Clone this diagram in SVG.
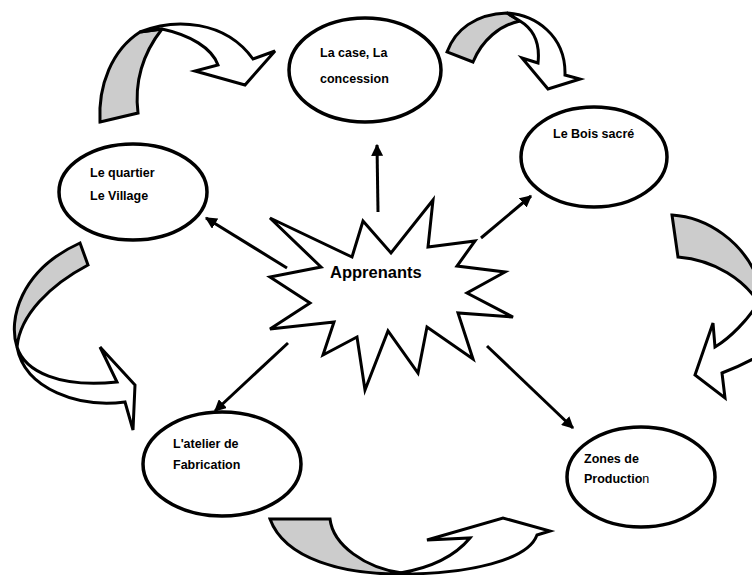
<svg xmlns="http://www.w3.org/2000/svg" width="752" height="575" viewBox="0 0 752 575">
<style>
.ell{fill:#fff;stroke:#000;stroke-width:3.5}
.lbl{font-family:"Liberation Sans",Arial,sans-serif;font-weight:bold;font-size:12.5px;fill:#000}
.gray{fill:#cccccc;stroke:#000;stroke-width:3;stroke-linejoin:miter}
.white{fill:#fff;stroke:#000;stroke-width:3;stroke-linejoin:miter}
.conn{stroke:#000;stroke-width:3;fill:none}
</style>
<defs>
<marker id="ah" viewBox="0 0 10 10" refX="9" refY="5" markerWidth="4" markerHeight="4" orient="auto" markerUnits="strokeWidth">
<path d="M0,0 L10,5 L0,10 Z" fill="#000"/>
</marker>
</defs>
<rect width="752" height="575" fill="#fff"/>

<g id="curved-arrows">
<g id="arrow-top-left">
<path class="gray" d="M100,122 L138,113 C134,80 144,52 162,29 L140,32 C112,50 98,85 100,122 Z"/>
<path class="white" d="M140,32 C175,18 225,20 253,59 L275,51 L245,85 L195,71 L218,65 C212,48 190,35 162,29 Z"/>
</g>
<g id="arrow-top-right">
<path class="gray" d="M447,52 C455,30 475,14 507,13 L520,21 C500,25 482,40 473,62 Z"/>
<path class="white" d="M507,13 C535,15 566,35 565,75 L580,79 L548,89 L522,58 L538,63 C540,45 535,30 520,21 Z"/>
</g>
<g id="arrow-right">
<path class="gray" d="M672,215 C705,217 745,240 760,285 L760,305 C745,280 715,260 678,257 Z"/>
<path class="white" d="M760,300 C748,320 730,338 715,347 L713,323 L695,375 L725,398 L722,373 C735,368 748,362 760,355 Z"/>
</g>
<g id="arrow-left">
<path class="gray" d="M80,243 L88,265 C50,285 20,315 17,347 C8,320 20,270 80,243 Z"/>
<path class="white" d="M17,347 C25,372 60,388 117,382 L100,347 L135,385 L133,430 L125,402 C80,408 25,390 17,347 Z"/>
</g>
<g id="arrow-bottom">
<path class="gray" d="M270,519 L330,519 C333,545 365,568 402,573 L398,574 C345,574 285,560 270,519 Z"/>
<path class="white" d="M400,573 C430,568 455,556 470,538 L427,540 L503,518 L550,531 L537,535 C528,560 470,574 400,574 Z"/>
</g>
</g>

<g id="connectors">
<line class="conn" x1="378" y1="212" x2="377" y2="145" marker-end="url(#ah)"/>
<line class="conn" x1="287" y1="268" x2="206" y2="218" marker-end="url(#ah)"/>
<line class="conn" x1="481" y1="238" x2="531" y2="196" marker-end="url(#ah)"/>
<line class="conn" x1="288" y1="343" x2="215" y2="411" marker-end="url(#ah)"/>
<line class="conn" x1="487" y1="346" x2="573" y2="428" marker-end="url(#ah)"/>
</g>

<g id="apprenants">
<polygon points="270,218 352,257 363,221 391,253 433,200 428,247 475,241 457,266 505,272 467,293 513,317 458,313 473,359 427,327 418,373 388,331 365,390 357,337 323,355 334,322 270,329 310,303 270,277 321,267" fill="#fff" stroke="#000" stroke-width="3" stroke-linejoin="miter"/>
<text class="lbl" x="330" y="278" style="font-size:16.5px">Apprenants</text>
</g>

<g id="case">
<ellipse class="ell" cx="365" cy="70" rx="76" ry="52"/>
<text class="lbl" x="320" y="57">La case, La</text>
<text class="lbl" x="320" y="83">concession</text>
</g>

<g id="quartier">
<ellipse class="ell" cx="133" cy="192" rx="74" ry="48"/>
<text class="lbl" x="90" y="177">Le quartier</text>
<text class="lbl" x="90" y="200">Le Village</text>
</g>

<g id="bois">
<ellipse class="ell" cx="594" cy="157" rx="73" ry="50"/>
<text class="lbl" x="553" y="138">Le Bois sacré</text>
</g>

<g id="atelier">
<ellipse class="ell" cx="222" cy="464" rx="79" ry="52"/>
<text class="lbl" x="173" y="448">L'atelier de</text>
<text class="lbl" x="173" y="469">Fabrication</text>
</g>

<g id="zones">
<ellipse class="ell" cx="641" cy="477" rx="74" ry="50"/>
<text class="lbl" x="584" y="463">Zones de</text>
<text class="lbl" x="584" y="483">Productio<tspan font-weight="normal">n</tspan></text>
</g>
</svg>
